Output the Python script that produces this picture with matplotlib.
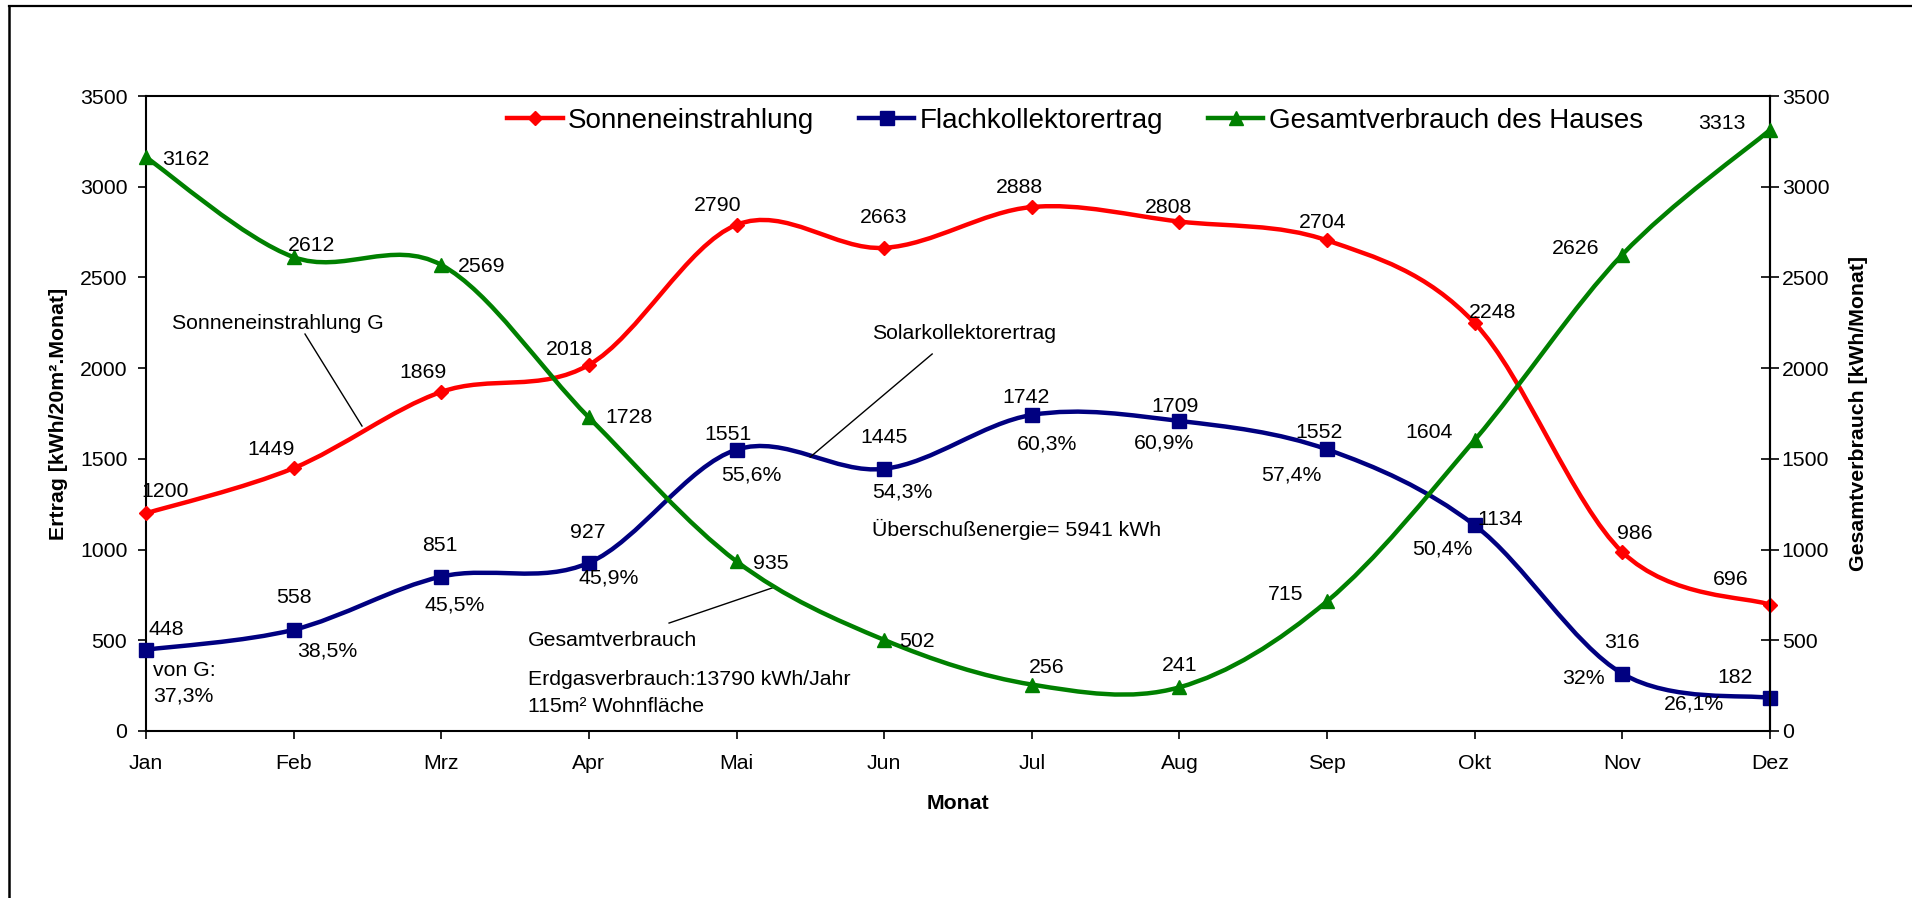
import numpy as np
import matplotlib
matplotlib.use("Agg")
import matplotlib.pyplot as plt
from matplotlib.path import Path
from matplotlib.patches import PathPatch
from matplotlib.lines import Line2D

plt.rcParams['font.family'] = ['Liberation Sans', 'DejaVu Sans']

# ------------------------- data --------------------------------
months = ["Jan", "Feb", "Mrz", "Apr", "Mai", "Jun", "Jul", "Aug", "Sep", "Okt", "Nov", "Dez"]
sonne = [1200, 1449, 1869, 2018, 2790, 2663, 2888, 2808, 2704, 2248, 986, 696]
kollektor = [448, 558, 851, 927, 1551, 1445, 1742, 1709, 1552, 1134, 316, 182]
verbrauch = [3162, 2612, 2569, 1728, 935, 502, 256, 241, 715, 1604, 2626, 3313]
anteil = ["37,3%", "38,5%", "45,5%", "45,9%", "55,6%", "54,3%",
          "60,3%", "60,9%", "57,4%", "50,4%", "32%", "26,1%"]

# label offsets in pixels (dx, dy up) of the label centre from the point
off_sonne = [(19, 24), (-23, 20.5), (-18, 21), (-19, 17.5), (-19, 21), (-1, 32),
             (-12.5, 22), (-11, 16.5), (-4, 20), (18, 13), (12.5, 20.5), (-39.5, 27)]
off_koll = [(20, 22), (0, 34), (-1, 33), (-1, 32), (-9, 17), (0, 33),
            (-5.5, 19), (-4.5, 16.5), (-8, 19), (25, 8), (0, 33), (-35, 22)]
off_anteil = [None, (34, -19), (13, -26), (20, -13), (15, -23), (18, -21),
              (15.5, -27), (-15.6, -20.5), (-36, -23.5), (-32, -22), (-39, -3), (-76, -4)]
off_verb = [(40, 0), (18, 14), (40, 0), (40, 2), (34, 0), (33, 0),
            (14.5, 18.6), (0, 24), (-41, 9), (-46, 9), (-47, 8), (-48.5, 8.5)]

RED, BLUE, GREEN = "#FF0000", "#000080", "#008000"
FS = 15.3


def smooth_path(xs, ys):
    # Excel-like smoothed line (Catmull-Rom as cubic Bezier)
    pts = np.column_stack([xs, ys]).astype(float)
    n = len(pts)
    verts = [pts[0]]
    codes = [Path.MOVETO]
    for i in range(n - 1):
        p0 = pts[max(i - 1, 0)]
        p1, p2 = pts[i], pts[i + 1]
        p3 = pts[min(i + 2, n - 1)]
        verts += [p1 + (p2 - p0) / 6, p2 - (p3 - p1) / 6, p2]
        codes += [Path.CURVE4] * 3
    return Path(verts, codes)


fig = plt.figure(figsize=(19.12, 8.98), dpi=100)
ax = fig.add_axes([146 / 1912, 1 - 731 / 898, 1624 / 1912, 635 / 898])
ax2 = ax.twinx()
x = np.arange(len(months))

def draw_series(a, ys, color, marker, ms):
    a.add_patch(PathPatch(smooth_path(x, ys), fill=False, ec=color, lw=3.2,
                          joinstyle='round', capstyle='round', clip_on=False))
    a.plot(x, ys, ls='none', marker=marker, ms=ms, color=color, clip_on=False, zorder=3)

draw_series(ax, sonne, RED, 'D', 7)
draw_series(ax, kollektor, BLUE, 's', 10.5)
draw_series(ax2, verbrauch, GREEN, '^', 10.5)

def label(a, xi, yi, text, off, ha='center'):
    a.annotate(text, (xi, yi), xytext=(off[0], off[1] - 7.5), textcoords='offset pixels',
               ha=ha, va='baseline', fontsize=FS, zorder=5)

for i in range(len(months)):
    label(ax, i, sonne[i], str(sonne[i]), off_sonne[i])
    label(ax, i, kollektor[i], str(kollektor[i]), off_koll[i])
    if off_anteil[i] is not None:
        label(ax, i, kollektor[i], anteil[i], off_anteil[i])
    label(ax2, i, verbrauch[i], str(verbrauch[i]), off_verb[i])

# first share label with its prefix
ax.text(0.047, 303, "von G:", fontsize=FS, va='baseline')
ax.text(0.047, 161.6, anteil[0], fontsize=FS, va='baseline')

# callouts
ax.text(0.176, 2218, "Sonneneinstrahlung G", fontsize=FS, va='baseline')
ax.plot([1.077, 1.463], [2188, 1681], color='black', lw=1)
ax.text(4.919, 2163, "Solarkollektorertrag", fontsize=FS, va='baseline')
ax.plot([5.325, 4.499], [2078, 1510], color='black', lw=1)
ax.text(4.919, 1076, "Überschußenergie= 5941 kWh", fontsize=FS, va='baseline')
ax.text(2.588, 468, "Gesamtverbrauch", fontsize=FS, va='baseline')
ax.plot([3.543, 4.261], [595, 794], color='black', lw=1)
ax.text(2.588, 253, "Erdgasverbrauch:13790 kWh/Jahr", fontsize=FS, va='baseline')
ax.text(2.588, 107, "115m² Wohnfläche", fontsize=FS, va='baseline')

# axes
ax.set_xlim(0, 11)
ax.set_ylim(0, 3500)
ax2.set_ylim(0, 3500)
ax.set_xticks(x, months)
ax.set_yticks(range(0, 3501, 500))
ax2.set_yticks(range(0, 3501, 500))
ax.tick_params(axis='x', direction='out', length=6, width=1.2, labelsize=FS, pad=10.5)
ax.tick_params(axis='y', direction='out', length=6, width=1.2, labelsize=FS, pad=7.5)
ax2.tick_params(axis='y', direction='inout', length=13, width=1.2, labelsize=FS, pad=2)
for s in ax.spines.values():
    s.set_linewidth(1.5)
for k in ['left', 'top', 'bottom']:
    ax2.spines[k].set_visible(False)
ax2.spines['right'].set_linewidth(1.5)

ax.set_xlabel("Monat", fontsize=FS, fontweight='bold', labelpad=15)
ax.set_ylabel("Ertrag [kWh/20m².Monat]", fontsize=FS, fontweight='bold', labelpad=8.3)
ax2.set_ylabel("Gesamtverbrauch [kWh/Monat]", fontsize=FS, fontweight='bold', labelpad=14)

handles = [Line2D([], [], color=RED, lw=3.2, marker='D', ms=7),
           Line2D([], [], color=BLUE, lw=3.2, marker='s', ms=10.5),
           Line2D([], [], color=GREEN, lw=3.2, marker='^', ms=10.5)]
ax2.legend(handles, ["Sonneneinstrahlung", "Flachkollektorertrag", "Gesamtverbrauch des Hauses"],
           ncol=3, loc='center', bbox_to_anchor=(1075 / 1912, 1 - 121 / 898),
           bbox_transform=fig.transFigure, frameon=False, fontsize=20, numpoints=1,
           handlelength=2.0, handletextpad=0.2, columnspacing=1.6, borderpad=0, borderaxespad=0)

# outer chart frame (right and bottom edges are cut off)
fig.add_artist(Line2D([9 / 1912, 1.0], [1 - 6 / 898, 1 - 6 / 898], color='black', lw=1.6))
fig.add_artist(Line2D([9 / 1912, 9 / 1912], [0.0, 1 - 6 / 898], color='black', lw=1.8))

fig.savefig("out.png", dpi=100)
